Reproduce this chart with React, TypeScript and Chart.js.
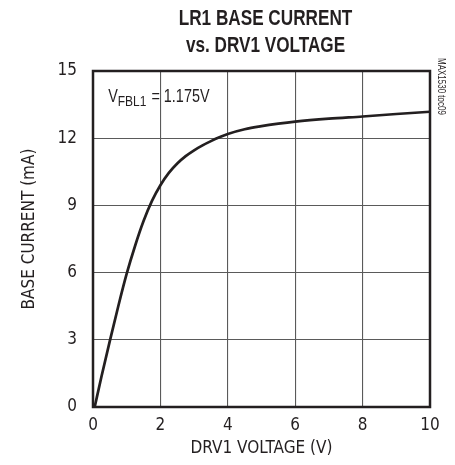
import React, { useEffect, useRef } from "react";
import { Chart, registerables } from "chart.js";

Chart.register(...registerables);

const voltage = [0.05, 0.25, 0.5, 0.75, 1, 1.25, 1.5, 1.75, 2, 2.25, 2.5, 2.75, 3, 3.25, 3.5, 3.75, 4, 4.5, 5, 5.5, 6, 7, 8, 9, 10];
const current = [0, 1.35, 2.95, 4.5, 5.95, 7.2, 8.3, 9.2, 9.9, 10.45, 10.87, 11.2, 11.46, 11.68, 11.87, 12.04, 12.19, 12.4, 12.54, 12.65, 12.74, 12.87, 12.97, 13.08, 13.18];
const titleLines = ["LR1 BASE CURRENT", "vs. DRV1 VOLTAGE"];
const xTitle = "DRV1 VOLTAGE (V)";
const yTitle = "BASE CURRENT (mA)";
const noteMain = "V";
const noteSub = "FBL1";
const noteRest = " = 1.175V";
const sideNote = "MAX1530 toc09";

const FONT = '"DejaVu Sans Condensed", "Liberation Sans", Arial, sans-serif';
const NARROW = '"Liberation Sans", Arial, sans-serif';
const INK = "#231f20";

function narrowText(ctx: any, text: string, x: number, y: number, font: string, align: "left" | "center" = "left", squeeze = 0.8) {
  ctx.save();
  ctx.font = font;
  const w = ctx.measureText(text).width * squeeze;
  const x0 = align === "center" ? x - w / 2 : x;
  ctx.translate(x0, y);
  ctx.scale(squeeze, 1);
  ctx.textAlign = "left";
  ctx.fillText(text, 0, 0);
  ctx.restore();
  return w;
}

const textPlugin = {
  id: "textPlugin",
  afterDraw(chart: any) {
    const ctx = chart.ctx;
    const area = chart.chartArea;
    ctx.save();
    // frame
    ctx.strokeStyle = INK;
    ctx.lineWidth = 2.5;
    ctx.strokeRect(area.left, area.top, area.right - area.left, area.bottom - area.top);
    ctx.fillStyle = INK;
    ctx.textBaseline = "alphabetic";
    // title
    const cx = (area.left + area.right) / 2 + 4;
    narrowText(ctx, titleLines[0], cx, 25, `bold 22px ${NARROW}`, "center", 0.78);
    narrowText(ctx, titleLines[1], cx, 52, `bold 22px ${NARROW}`, "center", 0.78);
    // annotation
    let x = chart.scales.x.getPixelForValue(0.45);
    const y = chart.scales.y.getPixelForValue(13.6);
    x += narrowText(ctx, noteMain, x, y, `18px ${NARROW}`);
    x += narrowText(ctx, noteSub, x, y + 4, `15px ${NARROW}`);
    narrowText(ctx, noteRest, x + 1, y, `18px ${NARROW}`);
    // y axis title
    ctx.save();
    ctx.translate(30, 229);
    ctx.rotate(-Math.PI / 2);
    ctx.font = `17px ${FONT}`;
    ctx.textAlign = "center";
    ctx.textBaseline = "middle";
    ctx.fillText(yTitle, 0, 0);
    ctx.restore();
    // side note
    ctx.save();
    ctx.translate(area.right + 11, area.top - 13);
    ctx.rotate(Math.PI / 2);
    ctx.textBaseline = "middle";
    narrowText(ctx, sideNote, 0, 0, `10px ${NARROW}`);
    ctx.restore();
    ctx.restore();
  },
};

export default function App() {
  const ref = useRef<HTMLCanvasElement>(null);
  useEffect(() => {
    if (!ref.current) return;
    const chart = new Chart(ref.current, {
      type: "line",
      data: {
        datasets: [
          {
            data: voltage.map((v, i) => ({ x: v, y: current[i] })),
            borderColor: INK,
            borderWidth: 2.7,
            pointRadius: 0,
            cubicInterpolationMode: "monotone",
            fill: false,
          },
        ],
      },
      options: {
        animation: false,
        responsive: false,
        devicePixelRatio: 1,
        layout: { padding: { left: 0, right: 25, top: 71, bottom: 0 } },
        plugins: { legend: { display: false }, tooltip: { enabled: false }, title: { display: false } },
        scales: {
          x: {
            type: "linear",
            min: 0,
            max: 10,
            afterFit: (s: any) => { s.height = 58; },
            ticks: { stepSize: 2, color: INK, font: { family: FONT, size: 17 }, padding: 8, maxRotation: 0 },
            grid: { color: "#5a5a5a", lineWidth: 1.1, drawTicks: false },
            border: { display: false },
            title: { display: true, text: xTitle, color: INK, font: { family: FONT, size: 17 }, padding: { top: 0, bottom: 6 } },
          },
          y: {
            type: "linear",
            min: 0,
            max: 15,
            afterFit: (s: any) => { s.width = 93; },
            ticks: { stepSize: 3, color: INK, font: { family: FONT, size: 17 }, padding: 16 },
            grid: { color: "#5a5a5a", lineWidth: 1.1, drawTicks: false },
            border: { display: false },
            title: { display: false },
          },
        },
      },
      plugins: [textPlugin],
    } as any);
    return () => chart.destroy();
  }, []);
  return (
    <div style={{ position: "absolute", left: 0, top: 0, width: 455, height: 465, background: "#fff" }}>
      <canvas ref={ref} width={455} height={465} style={{ width: 455, height: 465 }} />
    </div>
  );
}
